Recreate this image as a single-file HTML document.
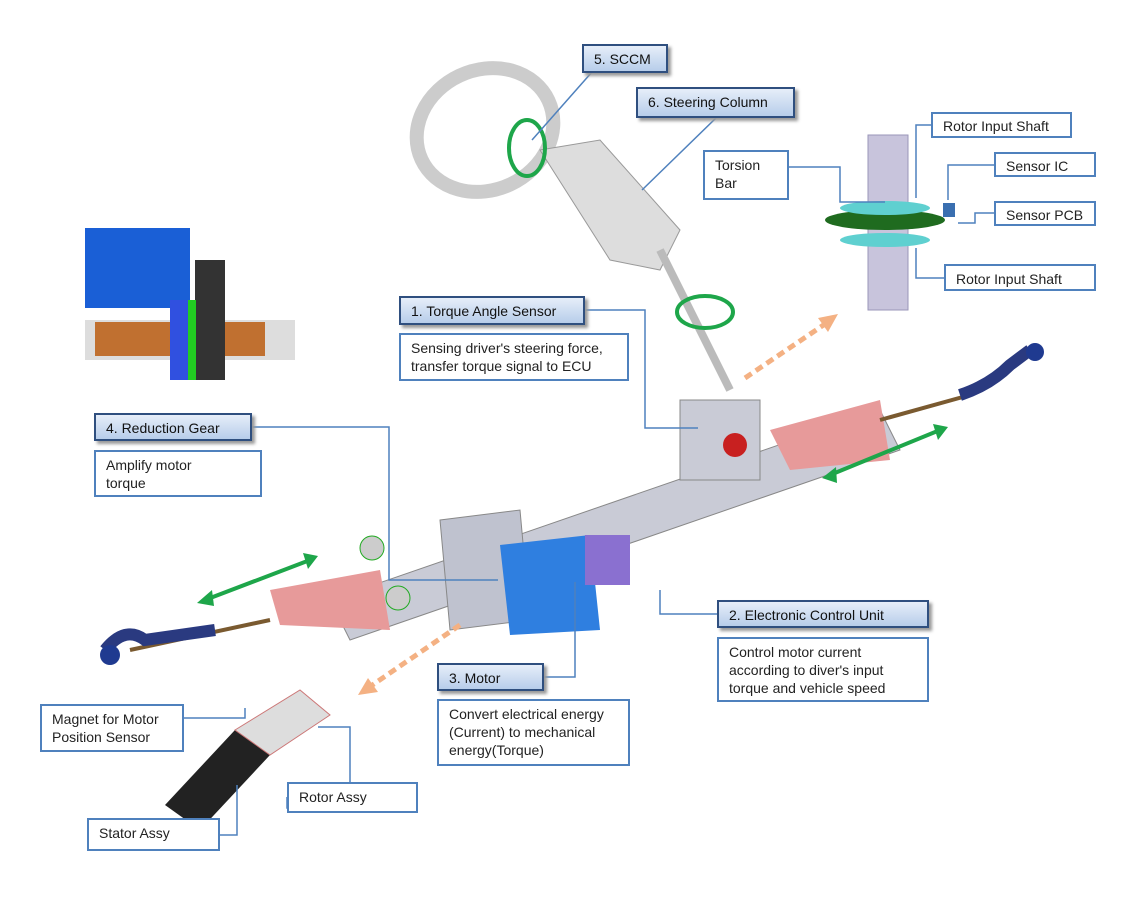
<!DOCTYPE html>
<html><head><meta charset="utf-8"><style>
body{margin:0;width:1135px;height:911px;background:#fff;position:relative;overflow:hidden;font-family:"Liberation Sans",sans-serif;}
.b{position:absolute;border:2px solid #4f81bd;background:#fff;font-size:14px;color:#222;box-sizing:border-box;padding:4px 10px;line-height:18px}
.h{position:absolute;border:2px solid #2f4f7f;background:linear-gradient(#e6eef9,#b7cdea);font-size:14px;color:#111;box-sizing:border-box;padding:5px 10px;box-shadow:3px 3px 3px #999}
svg{position:absolute;left:0;top:0}
</style></head><body>
<svg width="1135" height="911">
<ellipse cx="485" cy="130" rx="70" ry="60" fill="none" stroke="#ccc" stroke-width="14" transform="rotate(-25 485 130)"/>
<polygon points="540,150 600,140 680,230 660,270 610,260" fill="#ddd" stroke="#999"/>
<line x1="660" y1="250" x2="730" y2="390" stroke="#bbb" stroke-width="8"/>
<rect x="868" y="135" width="40" height="175" fill="#c8c4dc" stroke="#9a96b8"/>
<ellipse cx="885" cy="220" rx="60" ry="10" fill="#1f6b1f"/>
<ellipse cx="885" cy="208" rx="45" ry="7" fill="#5fd0d0"/>
<ellipse cx="885" cy="240" rx="45" ry="7" fill="#5fd0d0"/>
<rect x="943" y="203" width="12" height="14" fill="#3a6fb0"/>
<rect x="85" y="228" width="105" height="80" fill="#1a5fd6"/>
<rect x="85" y="320" width="210" height="40" fill="#ddd"/>
<rect x="95" y="322" width="170" height="34" fill="#c07030"/>
<rect x="170" y="300" width="25" height="80" fill="#3050e0"/>
<rect x="195" y="260" width="30" height="120" fill="#333"/>
<rect x="188" y="300" width="8" height="80" fill="#2c2"/>
<polygon points="330,600 880,410 900,450 350,640" fill="#c9cbd6" stroke="#888"/>
<polygon points="270,590 380,570 390,630 280,625" fill="#e79a9a"/>
<polygon points="770,430 880,400 890,460 790,470" fill="#e79a9a"/>
<polygon points="440,520 520,510 530,620 450,630" fill="#bfc2cf" stroke="#888"/>
<polygon points="500,545 590,535 600,630 510,635" fill="#2f7fe0"/>
<rect x="585" y="535" width="45" height="50" fill="#8a70d0"/>
<rect x="680" y="400" width="80" height="80" fill="#c9cbd6" stroke="#888"/>
<circle cx="735" cy="445" r="12" fill="#c82020"/>
<line x1="130" y1="650" x2="270" y2="620" stroke="#7a5a30" stroke-width="4"/>
<path d="M105 650 q20 -25 40 -10 l70 -10" stroke="#2a3a80" stroke-width="12" fill="none"/>
<circle cx="110" cy="655" r="10" fill="#1f3a90"/>
<line x1="880" y1="420" x2="970" y2="395" stroke="#7a5a30" stroke-width="4"/>
<path d="M960 395 q30 -10 50 -30 l20 -15" stroke="#2a3a80" stroke-width="12" fill="none"/>
<circle cx="1035" cy="352" r="9" fill="#1f3a90"/>
<circle cx="372" cy="548" r="12" fill="#ccc" stroke="#2a2"/><circle cx="398" cy="598" r="12" fill="#ccc" stroke="#2a2"/>
<polygon points="165,805 235,730 270,755 200,830" fill="#222"/>
<polygon points="235,730 300,690 330,715 270,755" fill="#ddd" stroke="#c77"/>
<g stroke="#1ea64a" stroke-width="4" fill="#1ea64a">
<line x1="205" y1="600" x2="310" y2="560"/><line x1="830" y1="475" x2="940" y2="430"/>
</g>
<polygon points="197,603 212,590 214,606" fill="#1ea64a"/><polygon points="318,556 303,553 308,569" fill="#1ea64a"/>
<polygon points="822,478 836,467 837,483" fill="#1ea64a"/><polygon points="948,427 933,424 938,440" fill="#1ea64a"/>
<ellipse cx="527" cy="148" rx="18" ry="28" fill="none" stroke="#1ea64a" stroke-width="4"/>
<ellipse cx="705" cy="312" rx="28" ry="16" fill="none" stroke="#1ea64a" stroke-width="4"/>
<g stroke="#f4b183" stroke-width="5" stroke-dasharray="8 5">
<line x1="745" y1="378" x2="828" y2="322"/><line x1="460" y1="625" x2="368" y2="688"/>
</g>
<polygon points="838,314 818,318 828,332" fill="#f4b183"/><polygon points="358,695 378,692 368,678" fill="#f4b183"/>
<g stroke="#4f81bd" stroke-width="1.5" fill="none">
<polyline points="585,310 645,310 645,428 698,428"/>
<polyline points="252,427 389,427 389,580 498,580"/>
<polyline points="717,614 660,614 660,590"/>
<polyline points="544,677 575,677 575,582"/>
<line x1="592" y1="72" x2="532" y2="140"/>
<line x1="716" y1="118" x2="642" y2="190"/>
<polyline points="931,125 916,125 916,198"/>
<polyline points="994,165 948,165 948,200"/>
<polyline points="994,213 975,213 975,223 958,223"/>
<polyline points="944,278 916,278 916,248"/>
<polyline points="789,167 840,167 840,202 885,202"/>
<polyline points="184,718 245,718 245,708"/>
<polyline points="287,797 287,808 350,808 350,727 318,727"/>
<polyline points="220,835 237,835 237,785"/>
</g>
</svg>
<div class="h" style="left:582px;top:44px;width:86px;height:29px">5. SCCM</div>
<div class="h" style="left:636px;top:87px;width:159px;height:31px">6. Steering Column</div>
<div class="h" style="left:399px;top:296px;width:186px;height:29px">1. Torque Angle Sensor</div>
<div class="b" style="left:399px;top:333px;width:230px;height:48px">Sensing driver's steering force,<br>transfer torque signal to ECU</div>
<div class="h" style="left:94px;top:413px;width:158px;height:28px">4. Reduction Gear</div>
<div class="b" style="left:94px;top:450px;width:168px;height:47px">Amplify motor<br>torque</div>
<div class="h" style="left:717px;top:600px;width:212px;height:28px">2. Electronic Control Unit</div>
<div class="b" style="left:717px;top:637px;width:212px;height:65px">Control motor current<br>according to diver's input<br>torque and vehicle speed</div>
<div class="h" style="left:437px;top:663px;width:107px;height:28px">3. Motor</div>
<div class="b" style="left:437px;top:699px;width:193px;height:67px">Convert electrical energy<br>(Current) to mechanical<br>energy(Torque)</div>
<div class="b" style="left:931px;top:112px;width:141px;height:26px;padding-top:3px">Rotor Input Shaft</div>
<div class="b" style="left:994px;top:152px;width:102px;height:25px;padding-top:3px">Sensor IC</div>
<div class="b" style="left:994px;top:201px;width:102px;height:25px;padding-top:3px">Sensor PCB</div>
<div class="b" style="left:944px;top:264px;width:152px;height:27px;padding-top:4px">Rotor Input Shaft</div>
<div class="b" style="left:703px;top:150px;width:86px;height:50px">Torsion<br>Bar</div>
<div class="b" style="left:40px;top:704px;width:144px;height:48px">Magnet for Motor<br>Position Sensor</div>
<div class="b" style="left:287px;top:782px;width:131px;height:31px">Rotor Assy</div>
<div class="b" style="left:87px;top:818px;width:133px;height:33px">Stator Assy</div>
</body></html>
